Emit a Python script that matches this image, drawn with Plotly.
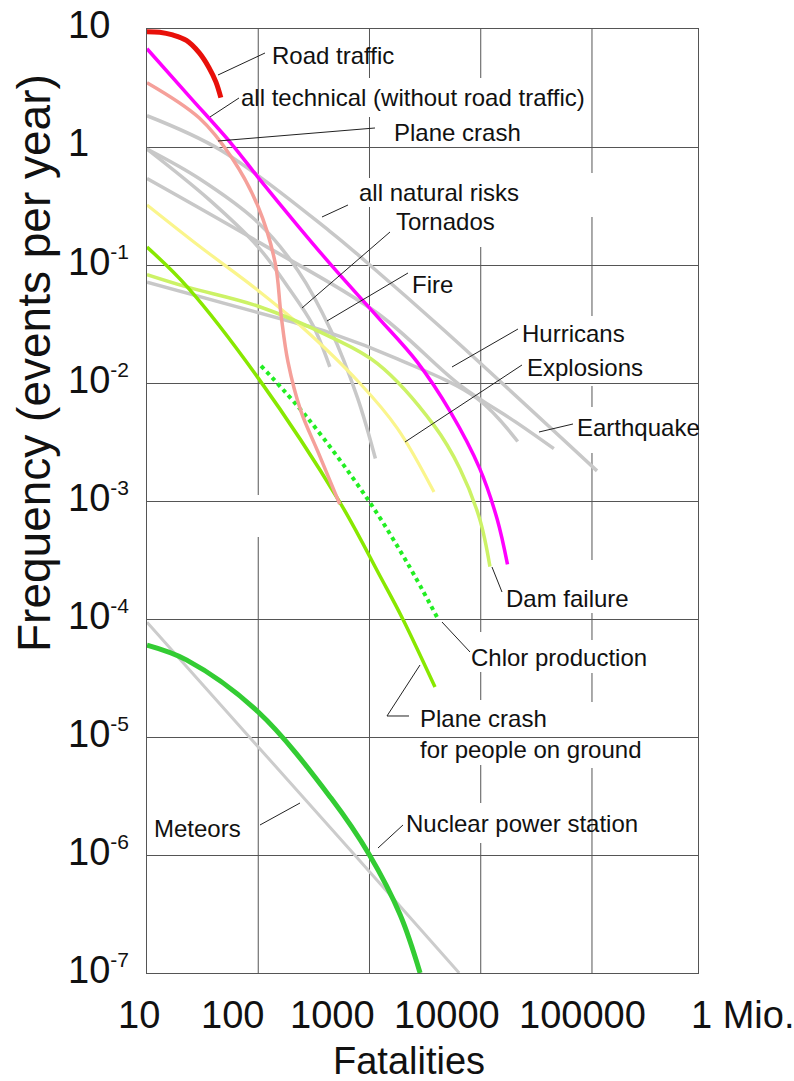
import math
import plotly.graph_objects as go

# ---------------- data ----------------
road_x = [10, 13, 17, 22.6, 29.4, 36.1, 41.6, 46.1]
road_y = [9.5, 9.4, 8.9, 8.0, 6.3, 4.7, 3.56, 2.62]

tech_x = [10, 24.0, 57.7, 100, 228, 468, 1180, 2680, 5290, 9800, 14060, 17400]
tech_y = [6.8, 2.69, 1.06, 0.551, 0.214, 0.0963, 0.0364, 0.0151, 0.00577, 0.00188, 7.0e-4, 2.9e-4]

plane_x = [10, 29.4, 57.7, 100, 142, 160, 185, 242, 343, 540]
plane_y = [3.51, 1.77, 0.814, 0.31, 0.104, 0.0385, 0.0151, 0.00577, 0.00263, 9.4e-4]

natural_x = [10, 46.1, 440, 960, 4680, 111000]
natural_y = [1.84, 0.94, 0.193, 0.104, 0.028, 0.0018]

tornado_x = [10, 36.2, 100, 185, 310, 440]
tornado_y = [0.96, 0.358, 0.142, 0.065, 0.0308, 0.0137]

fire_x = [10, 29.4, 100, 228, 449, 782, 1130]
fire_y = [0.96, 0.54, 0.228, 0.0894, 0.028, 0.00745, 0.00229]

quake_x = [10, 100, 1180, 6500, 21500, 45400]
quake_y = [0.54, 0.157, 0.039, 0.0096, 0.00455, 0.00278]

hurricane_x = [10, 185, 449, 1780, 9200, 21500]
hurricane_y = [0.0714, 0.0337, 0.0265, 0.016, 0.00745, 0.00319]

explosion_x = [10, 29.4, 95.9, 228, 815, 1780, 3800]
explosion_y = [0.323, 0.145, 0.0626, 0.0319, 0.01, 0.00413, 0.00119]

dam_x = [10, 23.1, 100, 449, 1180, 3800, 6500, 9800, 12100]
dam_y = [0.083, 0.065, 0.0447, 0.0245, 0.0146, 0.00437, 0.00188, 7.0e-4, 2.78e-4]

ground_x = [10, 23.1, 100, 540, 1250, 1970, 3880]
ground_y = [0.142, 0.065, 0.011, 9.8e-4, 2.29e-4, 1.02e-4, 2.65e-5]

chlor_x = [106, 279, 960, 2180, 4040]
chlor_y = [0.014, 0.00502, 1.04e-3, 3.0e-4, 1.04e-4]

nuclear_x = [10, 22.6, 100, 449, 1000, 1890, 2850]
nuclear_y = [6.0e-5, 4.5e-5, 1.63e-5, 3.05e-6, 1.0e-6, 3.1e-7, 1.0e-7]

meteor_x = [10, 750, 6400]
meteor_y = [9.4e-5, 9.8e-7, 1.0e-7]

x_tick_vals = [10, 100, 1000, 10000, 100000, 1000000]
x_tick_text = ["10", "100", "1000", "10000", "100000", "1 Mio."]
y_tick_vals = [10, 1, 0.1, 0.01, 1e-3, 1e-4, 1e-5, 1e-6, 1e-7]
y_tick_text = ["10", "1", "10<sup>-1</sup>", "10<sup>-2</sup>", "10<sup>-3</sup>",
               "10<sup>-4</sup>", "10<sup>-5</sup>", "10<sup>-6</sup>", "10<sup>-7</sup>"]

# ---------------- layout helpers ----------------
W, H = 794, 1081
L, T, R, B = 147, 29, 698, 973
XLOG = (1, 5.953)
YLOG = (-7, 1)
FONT = "Liberation Sans, Arial, sans-serif"


def pxx(p):
    return (p - L) / (R - L)


def pyy(p):
    return (B - p) / (B - T)


def xfrac(v):
    return (math.log10(v) - XLOG[0]) / (XLOG[1] - XLOG[0])


def yfrac(v):
    return (math.log10(v) - YLOG[0]) / (YLOG[1] - YLOG[0])


fig = go.Figure()

GRAY = "#c8c8c8"
series = [
    (natural_x, natural_y, GRAY, 3.5, "solid", "all natural risks"),
    (tornado_x, tornado_y, GRAY, 3.5, "solid", "Tornados"),
    (fire_x, fire_y, GRAY, 3.5, "solid", "Fire"),
    (quake_x, quake_y, GRAY, 3.5, "solid", "Earthquake"),
    (hurricane_x, hurricane_y, GRAY, 3.5, "solid", "Hurricans"),
    (explosion_x, explosion_y, "#faf58c", 3.2, "solid", "Explosions"),
    (dam_x, dam_y, "#ccf266", 3.5, "solid", "Dam failure"),
    (ground_x, ground_y, "#88e800", 3.5, "solid", "Plane crash for people on ground"),
    (chlor_x, chlor_y, "#22ee22", 4, "dot", "Chlor production"),
    (plane_x, plane_y, "#f5a09a", 3.5, "solid", "Plane crash"),
    (tech_x, tech_y, "#ff00ff", 3.5, "solid", "all technical"),
    (road_x, road_y, "#e8100a", 5, "solid", "Road traffic"),
    (meteor_x, meteor_y, "#cccccc", 3, "solid", "Meteors"),
    (nuclear_x, nuclear_y, "#33cc33", 5, "solid", "Nuclear power station"),
]
for xs, ys, col, w, dash, name in series:
    fig.add_trace(go.Scatter(
        x=xs, y=ys, mode="lines", name=name,
        line=dict(color=col, width=w, dash=dash, shape="spline", smoothing=1.0),
        hoverinfo="skip", showlegend=False,
    ))

shapes = []
GRID = "#555555"
# vertical grid lines with gaps (pixel y ranges hidden behind labels)
vgaps = {
    100: [(495, 537)],
    1000: [(78, 117), (178, 207)],
    10000: [(78, 247), (632, 672), (700, 765), (803, 843)],
    100000: [(173, 217), (316, 386), (407, 453), (560, 613), (640, 673), (702, 768)],
}
for v, gaps in vgaps.items():
    xf = xfrac(v)
    start = T
    for g0, g1 in gaps + [(B, B)]:
        if g0 > start:
            shapes.append(dict(type="line", xref="paper", yref="paper",
                               x0=xf, x1=xf, y0=pyy(start), y1=pyy(g0),
                               line=dict(color=GRID, width=1), layer="below"))
        start = g1

# leader lines
leaders = [
    [(265, 53), (218, 75)],
    [(239, 98), (210, 117)],
    [(375, 128), (218, 141)],
    [(348, 205), (322, 217)],
    [(390, 232), (302, 308)],
    [(408, 273), (327, 321)],
    [(518, 329), (452, 367)],
    [(522, 365), (405, 442)],
    [(573, 424), (539, 432)],
    [(502, 592), (492, 567)],
    [(470, 652), (442, 622)],
    [(409, 716), (387, 716), (420, 665)],
    [(260, 825), (300, 803)],
    [(403, 825), (378, 848)],
]
for pts in leaders:
    path = "M " + " L ".join(f"{pxx(a):.5f},{pyy(b):.5f}" for a, b in pts)
    shapes.append(dict(type="path", xref="paper", yref="paper", path=path,
                       line=dict(color="#222222", width=1)))

annotations = []
labels = [
    ("Road traffic", 273, 56),
    ("all technical (without road traffic)", 242, 97),
    ("Plane crash", 395, 132),
    ("all natural risks", 360, 192),
    ("Tornados", 397, 222),
    ("Fire", 413, 284),
    ("Hurricans", 523, 333),
    ("Explosions", 528, 367),
    ("Earthquake", 578, 427),
    ("Dam failure", 507, 598),
    ("Chlor production", 472, 657),
    ("Plane crash<br>for people on ground", 421, 734),
    ("Meteors", 155, 828),
    ("Nuclear power station", 407, 823),
]
for txt, lx, ly in labels:
    annotations.append(dict(text=txt, xref="paper", yref="paper", x=pxx(lx - 3), y=pyy(ly),
                            xanchor="left", yanchor="middle", showarrow=False, align="left",
                            font=dict(family=FONT, size=24, color="#111111")))

# x tick labels
x_label_centers = [139, 232, 332, 447, 582, 742]
for v, t, cx in zip(x_tick_vals, x_tick_text, x_label_centers):
    annotations.append(dict(text=t, xref="paper", yref="paper", x=pxx(cx), y=pyy(1015),
                            xanchor="center", yanchor="middle", showarrow=False,
                            font=dict(family=FONT, size=38, color="#111111")))

# y tick labels (left aligned)
for v, t in zip(y_tick_vals, y_tick_text):
    t = t.replace("<sup>", "<sup><span style='font-size:21px'>").replace("</sup>", "</span></sup>")
    annotations.append(dict(text=t, xref="paper", yref="paper", x=pxx(66), y=yfrac(v),
                            yshift=4, xanchor="left", yanchor="middle", showarrow=False,
                            font=dict(family=FONT, size=38, color="#111111")))

# axis titles
annotations.append(dict(text="Frequency (events per year)", xref="paper", yref="paper",
                        x=pxx(34), y=pyy(363), textangle=-90, xanchor="center", yanchor="middle",
                        showarrow=False, font=dict(family=FONT, size=46, color="#111111")))
annotations.append(dict(text="Fatalities", xref="paper", yref="paper",
                        x=pxx(409), y=pyy(1061), xanchor="center", yanchor="middle",
                        showarrow=False, font=dict(family=FONT, size=38, color="#111111")))

fig.update_layout(
    width=W, height=H,
    margin=dict(l=L, r=W - R, t=T, b=H - B, pad=0),
    paper_bgcolor="white", plot_bgcolor="rgba(0,0,0,0)",
    xaxis=dict(type="log", range=list(XLOG), showgrid=False, zeroline=False,
               showticklabels=False, ticks="", showline=True, mirror=True,
               linecolor=GRID, linewidth=1),
    yaxis=dict(type="log", range=list(YLOG), showgrid=True, gridcolor=GRID, gridwidth=1,
               dtick=1, zeroline=False, showticklabels=False, ticks="", showline=True,
               mirror=True, linecolor=GRID, linewidth=1),
    shapes=shapes, annotations=annotations, showlegend=False,
    font=dict(family=FONT),
)

fig.write_html("out.html")
